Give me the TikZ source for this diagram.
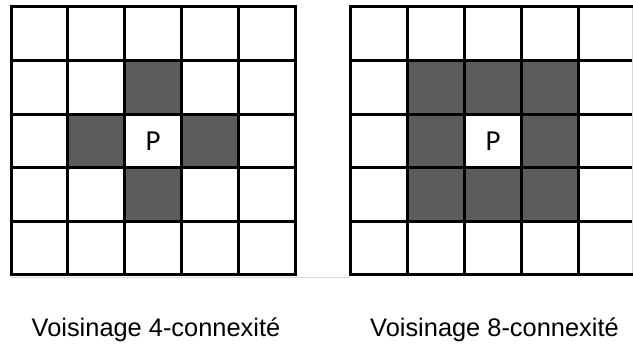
\documentclass[tikz,border=0pt]{standalone}
\usepackage{fontspec}
\setmainfont{Liberation Sans}
\newfontfamily\pfont{Carlito}
\definecolor{cellgray}{RGB}{92,92,92}
\definecolor{faint}{RGB}{215,215,215}
\tikzset{
  gridline/.style={line width=3pt, black},
  caption/.style={font=\fontsize{25.4}{30}\selectfont, inner sep=0pt},
  plabel/.style={font=\pfont\fontsize{29}{34}\selectfont, inner sep=0pt}
}
\begin{document}
\begin{tikzpicture}[x=1pt,y=-1pt]
\useasboundingbox[fill=white] (0,0) rectangle (633,344);
% faint line under grids
\draw[faint, line width=0.8pt] (11,277.5) -- (350,277.5);
% ---------- left grid (4-connexity) ----------
\def\lx{11}\def\ly{7}\def\cw{56.8}\def\ch{53.6}
\foreach \c/\r in {2/1, 1/2, 3/2, 2/3}{
  \fill[cellgray] (\lx+\c*\cw,\ly+\r*\ch) rectangle ++(\cw,\ch);
}
\foreach \i in {0,...,5}{
  \draw[gridline] (\lx+\i*\cw,\ly-1.5) -- (\lx+\i*\cw,\ly+5*\ch+1.5);
  \draw[gridline] (\lx-1.5,\ly+\i*\ch) -- (\lx+5*\cw+1.5,\ly+\i*\ch);
}
\node[plabel] (pl) at (\lx+2.5*\cw,\ly+2.5*\ch) {P};
% ---------- right grid (8-connexity) ----------
\def\rx{350.5}\def\rw{57}
\foreach \c in {1,2,3}{
  \foreach \r in {1,2,3}{
    \ifnum\c=2 \ifnum\r=2 \else
      \fill[cellgray] (\rx+\c*\rw,\ly+\r*\ch) rectangle ++(\rw,\ch);
    \fi\else
      \fill[cellgray] (\rx+\c*\rw,\ly+\r*\ch) rectangle ++(\rw,\ch);
    \fi
  }
}
\foreach \i in {0,...,4}{
  \draw[gridline] (\rx+\i*\rw,\ly-1.5) -- (\rx+\i*\rw,\ly+5*\ch+1.5);
}
\foreach \i in {0,...,5}{
  \draw[gridline] (\rx-1.5,\ly+\i*\ch) -- (633,\ly+\i*\ch);
}
\draw[faint, line width=1pt] (632.2,\ly+1.5) -- (632.2,\ly+5*\ch-1.5);
\node[plabel] (pr) at (\rx+2.5*\rw,\ly+2.5*\ch) {P};
% ---------- captions ----------
\node[caption, anchor=base] (cl) at (156,336.5) {Voisinage 4-connexité};
\node[caption, anchor=base] (cr) at (494.5,336.5) {Voisinage 8-connexité};
\end{tikzpicture}
\end{document}
